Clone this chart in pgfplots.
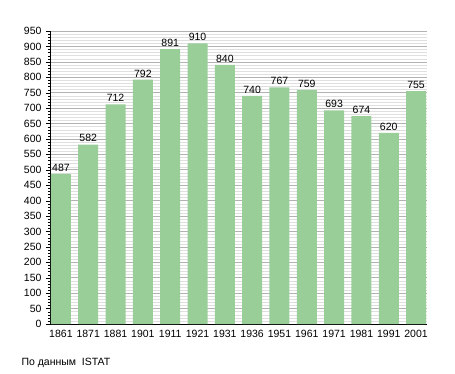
\documentclass[border=0pt]{standalone}
\usepackage{pgfplots}
\pgfplotsset{compat=1.18}
\usepackage{fontspec}
\setmainfont{Liberation Sans}
\definecolor{bargreen}{RGB}{153,206,153}
\begin{document}
\begin{tikzpicture}[x=1pt,y=1pt]
\useasboundingbox (0,0) rectangle (455,373);
\begin{axis}[
  at={(50pt,49pt)}, anchor=south west,
  scale only axis, width=377pt, height=293pt,
  xmin=-0.4, xmax=13.4, ymin=0, ymax=950,
  axis x line=bottom, axis y line=left,
  axis line style={black, -},
  xtick={0,...,13},
  xticklabels={1861,1871,1881,1901,1911,1921,1931,1936,1951,1961,1971,1981,1991,2001},
  x tick style={draw=none},
  ytick={0,50,...,950},
  minor y tick num=4,
  tick align=outside,
  major tick length=4pt, minor tick length=2pt,
  y tick style={black},
  ymajorgrids, yminorgrids,
  major grid style={gray!60, line width=0.6pt},
  minor grid style={gray!25, line width=0.4pt},
  tick label style={font=\fontsize{10.5}{12}\selectfont},
  /pgf/number format/assume math mode=true,
  yticklabel style={xshift=-1pt},
  xticklabel style={yshift=1pt},
  nodes near coords,
  every node near coord/.append style={font=\fontsize{10.5}{12}\selectfont, yshift=-1pt},
]
\addplot[ybar, bar width=20pt, fill=bargreen, draw=none]
coordinates {(0,487) (1,582) (2,712) (3,792) (4,891) (5,910) (6,840) (7,740) (8,767) (9,759) (10,693) (11,674) (12,620) (13,755)};
\end{axis}
\node[anchor=west, font=\fontsize{10.5}{12}\selectfont] at (18pt,10pt) {По данным\ \ ISTAT};
\end{tikzpicture}
\end{document}
